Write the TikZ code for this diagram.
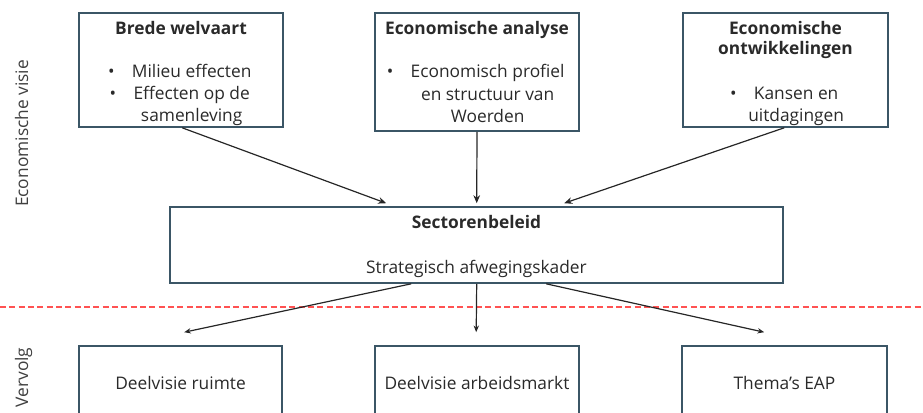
\documentclass[tikz,border=0pt]{standalone}
\usepackage{fontspec}
\setmainfont{Open Sans}
\usetikzlibrary{arrows.meta,calc}
\definecolor{boxline}{HTML}{3B5666}
\definecolor{redline}{HTML}{FF5252}
\definecolor{txt}{HTML}{2A2A2A}
\newcommand{\tbox}[3]{\parbox[c][#2][t]{#1}{\centering\vspace*{6pt}#3}}
\newcommand{\bl}[1]{\hspace*{16pt}\llap{\textbullet\hspace{13pt}}#1}
\newcommand{\cl}[1]{\hspace*{16pt}#1}
\begin{document}
\begin{tikzpicture}[x=0.75pt,y=-0.75pt,
  box/.style={draw=boxline,line width=1.2pt,fill=white,inner sep=0pt,text=txt,
    font=\fontsize{13}{16.7}\selectfont},
  arr/.style={line width=0.9pt,draw=black!85,-{Stealth[length=6pt,width=5pt]}},
  side/.style={rotate=90,anchor=base,font=\fontsize{13}{15}\selectfont,text=black!75},
]
\useasboundingbox (0,0) rectangle (923,412);
% top boxes
\node[box,minimum width=153pt,minimum height=85.5pt] (b1) at (181,70)
  {\tbox{153pt}{85.5pt}{\textbf{Brede welvaart}\\[15.5pt]\bl{Milieu effecten}\\\bl{Effecten op de}\\\cl{samenleving}}};
\node[box,minimum width=153pt,minimum height=88.5pt] (b2) at (477,72)
  {\tbox{153pt}{88.5pt}{\textbf{Economische analyse}\\[16pt]\bl{Economisch profiel}\\\cl{en structuur van}\\\cl{Woerden}}};
\node[box,minimum width=153.75pt,minimum height=85.5pt] (b3) at (785.5,70)
  {\tbox{153.75pt}{85.5pt}{\textbf{Economische}\\[-1.2pt]\textbf{ontwikkelingen}\\[16.5pt]\bl{Kansen en}\\\cl{uitdagingen}}};
% middle box
\node[box,minimum width=459.75pt,minimum height=57pt] (sec) at (476.5,245)
  {\tbox{459.75pt}{57pt}{\textbf{Sectorenbeleid}\\[17pt]Strategisch afwegingskader}};
% bottom boxes
\node[box,minimum width=152.25pt,minimum height=55.5pt] (b4) at (180.5,383) {Deelvisie ruimte};
\node[box,minimum width=153pt,minimum height=55.5pt] (b5) at (477,383) {Deelvisie arbeidsmarkt};
\node[box,minimum width=153.75pt,minimum height=55.5pt] (b6) at (784.5,383) {Thema's EAP};
% side labels
\node[side] (lv) at (28,133.5) {Economische visie};
\node[side] (lg) at (28,377.5) {Vervolg};
% red dashed line
\coordinate (dl) at (0,307);
\coordinate (dr) at (923,307);
\draw[redline,line width=1.6pt,dash pattern=on 4.5pt off 2.5pt] (dl) -- (dr);
% arrows into sectorenbeleid
\draw[arr] ($(b1.south west)+(104,0)$) -- ($(sec.north west)+(217,-3)$);
\draw[arr] (b2.south) -- ($(sec.north west)+(307.5,-3)$);
\draw[arr] ($(b3.south west)+(102,0)$) -- ($(sec.north west)+(395,-3)$);
% arrows out of sectorenbeleid
\draw[arr,-{Stealth[length=5pt,width=4pt]}] ($(sec.south west)+(242,0)$) -- ($(b4.north west)+(106,-13)$);
\draw[arr,-{Stealth[length=5pt,width=4pt]}] ($(sec.south west)+(307.5,0)$) -- ($(b5.north west)+(102,-13)$);
\draw[arr,-{Stealth[length=5pt,width=4pt]}] ($(sec.south west)+(377,0)$) -- ($(b6.north west)+(83,-13)$);
\end{tikzpicture}
\end{document}
